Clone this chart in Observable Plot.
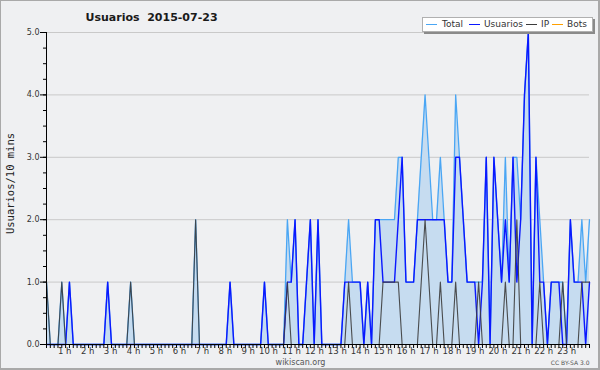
<!DOCTYPE html>
<html>
<head>
<meta charset="utf-8">
<script src="https://cdn.jsdelivr.net/npm/d3@7"></script>
<script src="https://cdn.jsdelivr.net/npm/@observablehq/plot@0.6"></script>
<style>
  body { margin: 0; background: #ffffff; }
  #wrap { position: relative; width: 600px; height: 370px; background: #eff0f2; overflow: hidden; font-family: "DejaVu Sans", sans-serif; }
  #wrap > svg { position: absolute; left: 0; top: 0; }
  #border { position: absolute; left: 0; top: 0; width: 600px; height: 370px; box-sizing: border-box; border: 1px solid #a9a9a9; border-right-width: 2px; border-bottom-width: 2px; pointer-events: none; }
  #legend { position: absolute; left: 422px; top: 17px; width: 171px; height: 15px; box-sizing: border-box; background: #ffffff; border: 1px solid #b0b0b0; box-shadow: 2px 2px 0 #8a8a8a; font: 9px "DejaVu Sans", sans-serif; color: #333; }
  #legend .ln { position: absolute; top: 6px; width: 11px; height: 0; border-top: 1px solid; }
  #legend .tx { position: absolute; top: 1px; line-height: 11px; white-space: nowrap; }
</style>
</head>
<body>
<div id="wrap">
  <div id="legend"></div>
  <div id="border"></div>
</div>
<script>
// Values per 10-minute slot, one row per hour (6 slots), 2015-07-23
const total = [
  1,0,0,0,1,0,  1,0,0,0,0,0,  0,0,0,0,1,0,  0,0,0,0,1,0,
  0,0,0,0,0,0,  0,0,0,0,0,0,  0,0,0,2,0,0,  0,0,0,0,0,0,
  1,0,0,0,0,0,  0,0,0,1,0,0,  0,0,0,2,1,2,  0,0,1,2,0,2,
  0,0,0,0,0,0,  1,2,1,1,1,0,  1,0,2,2,2,2,  2,2,3,3,1,1,
  1,2,3,4,3,2,  2,3,2,1,1,4,  3,2,1,1,1,1,  1,3,0,3,2,1,
  3,1,3,3,2,4,  5,0,3,2,1,0,  1,1,1,1,0,2,  1,1,2,1,2
];
const usuarios = [
  0,0,0,0,0,0,  1,0,0,0,0,0,  0,0,0,0,1,0,  0,0,0,0,0,0,
  0,0,0,0,0,0,  0,0,0,0,0,0,  0,0,0,0,0,0,  0,0,0,0,0,0,
  1,0,0,0,0,0,  0,0,0,1,0,0,  0,0,0,1,1,2,  0,0,1,2,0,2,
  0,0,0,0,0,0,  1,1,1,1,1,0,  1,0,2,2,1,1,  1,1,2,3,1,1,
  1,2,2,2,2,2,  2,2,2,1,1,3,  3,2,1,1,1,0,  1,3,0,3,2,1,
  2,1,3,1,2,4,  5,0,3,1,1,0,  1,1,1,0,0,2,  1,1,1,0,1
];
const ip = [
  1,0,0,0,1,0,  0,0,0,0,0,0,  0,0,0,0,0,0,  0,0,0,0,1,0,
  0,0,0,0,0,0,  0,0,0,0,0,0,  0,0,0,2,0,0,  0,0,0,0,0,0,
  0,0,0,0,0,0,  0,0,0,0,0,0,  0,0,0,1,0,0,  0,0,0,0,0,0,
  0,0,0,0,0,0,  0,1,0,0,0,0,  0,0,0,0,1,1,  1,1,1,0,0,0,
  0,0,1,2,1,0,  0,1,0,0,0,1,  0,0,0,0,0,1,  0,0,0,0,0,0,
  1,0,0,2,0,0,  0,0,0,1,0,0,  0,0,0,1,0,0,  0,0,1,1,1
];
const hours = [1,2,3,4,5,6,7,8,9,10,11,12,13,14,15,16,17,18,19,20,21,22,23];
const yTicks = [0,1,2,3,4,5];
const seriesNames = ["Total", "Usuarios", "IP", "Bots"];
const seriesColors = ["#4aa6f4", "#0a18ff", "#3c3c3c", "#ffa000"];

const slotsPerHour = 6;
const rows = total.map((t, i) => ({i, total: t, usuarios: usuarios[i], ip: ip[i]}));
const slotTicks = rows.map(d => d.i);
const hourTicks = hours.map(h => h * slotsPerHour);
const quarterTicks = d3.range(0, 5.001, 0.25);

const chart = Plot.plot({
  width: 600,
  height: 370,
  marginLeft: 46,
  marginRight: 11,
  marginTop: 32,
  marginBottom: 26,
  style: {background: "none", fontFamily: "DejaVu Sans, sans-serif", fontSize: "8px", color: "#222"},
  x: {domain: [0, rows.length - 1], label: null},
  y: {domain: [0, 5], label: null},
  marks: [
    Plot.gridY(yTicks.filter(d => d > 0), {stroke: "#c9c9c9", strokeOpacity: 1}),
    Plot.areaY(rows, {x: "i", y: "total", fill: "#c6dcf0"}),
    Plot.lineY(rows, {x: "i", y: "total", stroke: seriesColors[0], strokeWidth: 1.3}),
    Plot.lineY(rows, {x: "i", y: "usuarios", stroke: seriesColors[1], strokeWidth: 1.4}),
    Plot.lineY(rows, {x: "i", y: "ip", stroke: seriesColors[2], strokeWidth: 1.1, strokeOpacity: 0.9}),
    Plot.ruleX([0], {stroke: "#000", strokeWidth: 1}),
    Plot.ruleY([0], {stroke: "#000", strokeWidth: 1}),
    Plot.axisY({ticks: quarterTicks, tickSize: 3, tickFormat: () => "", stroke: "#000", label: null}),
    Plot.axisY({ticks: yTicks, tickSize: 6, tickPadding: 1, tickFormat: d3.format(".1f"), stroke: "#000", fill: "#333", fontSize: 8, label: null}),
    Plot.axisX({ticks: slotTicks, tickSize: 4, tickFormat: () => "", stroke: "#000", label: null}),
    Plot.axisX({ticks: hourTicks, tickSize: 0, tickPadding: 3, tickFormat: i => `${i / slotsPerHour} h`, textAnchor: "end", dx: 2, fill: "#333", fontSize: 8.5, label: null}),
    Plot.text(["Usuarios  2015-07-23"], {frameAnchor: "top-left", text: d => d, dx: 39, dy: -11.5, textAnchor: "start", lineAnchor: "bottom", fontWeight: "bold", fontSize: 11, fill: "#1a1a1a"}),
    Plot.text(["Usuarios/10 mins"], {frameAnchor: "left", text: d => d, rotate: -90, dx: -36, dy: -5, textAnchor: "middle", lineAnchor: "middle", fontFamily: "DejaVu Sans Mono, monospace", fontSize: 10.5, fill: "#222"}),
    Plot.text(["wikiscan.org"], {frameAnchor: "bottom", text: d => d, dx: -17.5, dy: 20, textAnchor: "middle", lineAnchor: "bottom", fontSize: 8, fill: "#555"}),
    Plot.text(["CC BY-SA 3.0"], {frameAnchor: "bottom-right", text: d => d, dx: 0, dy: 20, textAnchor: "end", lineAnchor: "bottom", fontSize: 6, fill: "#555"})
  ]
});
const wrap = document.getElementById("wrap");
wrap.insertBefore(chart, wrap.firstChild);

// legend
const legend = document.getElementById("legend");
const lineLeft = [3, 46, 103, 129];
const textLeft = [19, 61, 118, 144];
seriesNames.forEach((name, k) => {
  const ln = document.createElement("div");
  ln.className = "ln";
  ln.style.left = lineLeft[k] + "px";
  ln.style.borderTopColor = seriesColors[k];
  legend.appendChild(ln);
  const tx = document.createElement("div");
  tx.className = "tx";
  tx.style.left = textLeft[k] + "px";
  tx.textContent = name;
  legend.appendChild(tx);
});
</script>
</body>
</html>
